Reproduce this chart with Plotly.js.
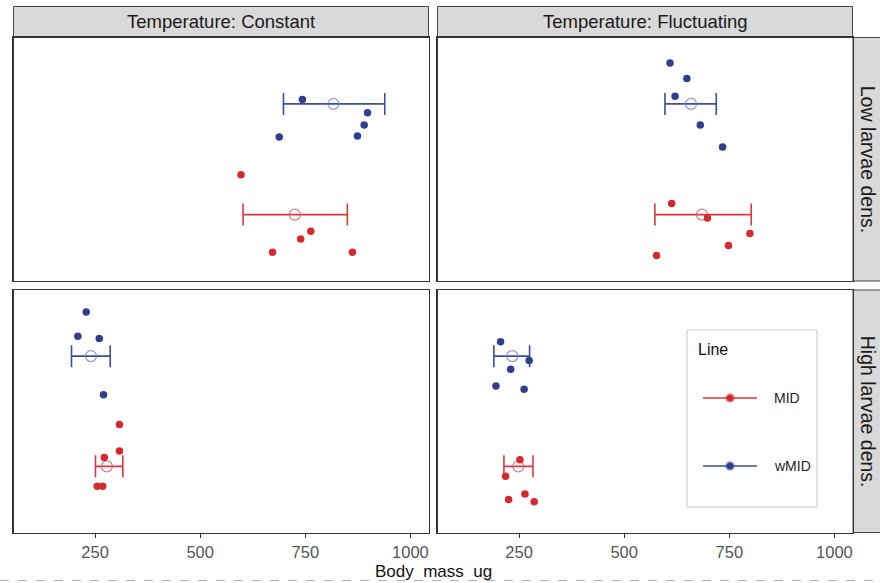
<!DOCTYPE html>
<html>
<head>
<meta charset="utf-8">
<script src="https://cdn.plot.ly/plotly-3.0.1.min.js"></script>
<style>html,body{margin:0;padding:0;background:#fff;}#chart{width:880px;height:583px;}</style>
</head>
<body>
<div id="chart"></div>
<script>
// ---- data ----
const xTickVals = [250, 500, 750, 1000];
const xTickText = ["250", "500", "750", "1000"];
const colLabels = ["Temperature: Constant", "Temperature: Fluctuating"];
const rowLabels = ["Low larvae dens.", "High larvae dens."];
const lineNames = ["MID", "wMID"];
const xTitle = "Body  mass  ug";

// Constant / Low density
const cl_MID_x  = [597, 763, 739, 672, 862];
const cl_MID_y  = [1.36, 0.85, 0.78, 0.66, 0.66];
const cl_wMID_x = [743, 898, 890, 874, 688];
const cl_wMID_y = [2.04, 1.92, 1.81, 1.71, 1.70];
// Fluctuating / Low density
const fl_MID_x  = [613, 698, 799, 748, 577];
const fl_MID_y  = [1.10, 0.97, 0.83, 0.72, 0.63];
const fl_wMID_x = [609, 649, 621, 681, 734];
const fl_wMID_y = [2.37, 2.23, 2.07, 1.81, 1.61];
// Constant / High density
const ch_MID_x  = [308, 308, 272, 255, 268];
const ch_MID_y  = [1.38, 1.14, 1.08, 0.82, 0.82];
const ch_wMID_x = [229, 209, 260, 270];
const ch_wMID_y = [2.40, 2.18, 2.16, 1.65];
// Fluctuating / High density
const fh_MID_x  = [252, 218, 264, 225, 286];
const fh_MID_y  = [1.06, 0.91, 0.75, 0.70, 0.68];
const fh_wMID_x = [206, 274, 230, 195, 262];
const fh_wMID_y = [2.13, 1.96, 1.88, 1.73, 1.70];

// means with 95% CI (lower, upper) per panel: [CL, FL, CH, FH]
const MID_mean  = [725, 685, 278, 248];
const MID_lo    = [602, 573, 251, 214];
const MID_hi    = [850, 802, 316, 283];
const wMID_mean = [817, 659, 240, 234];
const wMID_lo   = [698, 597, 194, 190];
const wMID_hi   = [939, 719, 286, 275];
const lineLevel = [1, 2]; // MID, wMID position on the discrete y scale

// ---- styling ----
const RED = '#d42a2f', BLUE = '#2e3f8f';
const RED_BAR = '#e0353c', BLUE_BAR = '#3c4d9e';
const RED_MEAN = 'rgba(200,90,95,0.75)', BLUE_MEAN = 'rgba(110,120,185,0.75)';
const FAM = 'Liberation Sans, Arial, sans-serif';
const W = 880, H = 583;
const px = v => v / W, py = v => 1 - v / H;

const panels = [
  {xa: 'x',  ya: 'y',  mx: cl_MID_x, my: cl_MID_y, wx: cl_wMID_x, wy: cl_wMID_y},
  {xa: 'x2', ya: 'y2', mx: fl_MID_x, my: fl_MID_y, wx: fl_wMID_x, wy: fl_wMID_y},
  {xa: 'x3', ya: 'y3', mx: ch_MID_x, my: ch_MID_y, wx: ch_wMID_x, wy: ch_wMID_y},
  {xa: 'x4', ya: 'y4', mx: fh_MID_x, my: fh_MID_y, wx: fh_wMID_x, wy: fh_wMID_y}
];

const traces = [];
panels.forEach((p, i) => {
  const meanTrace = (m, lo, hi, lvl, mc, bc, name) => ({
    type: 'scatter', mode: 'markers', xaxis: p.xa, yaxis: p.ya, name: name, showlegend: false,
    x: [m[i]], y: [lvl],
    marker: {symbol: 'circle-open', size: 11, color: mc, line: {width: 1.2, color: mc}},
    error_x: {type: 'data', symmetric: false, array: [hi[i] - m[i]], arrayminus: [m[i] - lo[i]],
              color: bc, thickness: 1.6, width: 11},
    hoverinfo: 'x'
  });
  traces.push(meanTrace(MID_mean, MID_lo, MID_hi, lineLevel[0], RED_MEAN, RED_BAR, 'MID mean'));
  traces.push(meanTrace(wMID_mean, wMID_lo, wMID_hi, lineLevel[1], BLUE_MEAN, BLUE_BAR, 'wMID mean'));
  traces.push({type: 'scatter', mode: 'markers', xaxis: p.xa, yaxis: p.ya, name: 'MID', showlegend: false,
    x: p.mx, y: p.my, marker: {size: 7.5, color: RED}});
  traces.push({type: 'scatter', mode: 'markers', xaxis: p.xa, yaxis: p.ya, name: 'wMID', showlegend: false,
    x: p.wx, y: p.wy, marker: {size: 7.5, color: BLUE}});
});

// domains (pixel-derived)
const colDom = [[px(13.5), px(428.5)], [px(437.5), px(852.5)]];
const rowDom = [[py(281), py(37.5)], [py(532.5), py(290)]];
const xRange = [56, 1043];
const yRange = [0.4, 2.6];

const axBase = {
  range: xRange, showgrid: false, zeroline: false, showline: true, mirror: true,
  linecolor: '#333333', linewidth: 1.4
};
function xAx(dom, anchor, bottom) {
  return Object.assign({}, axBase, {
    domain: dom, anchor: anchor,
    tickvals: xTickVals, ticktext: xTickText,
    ticks: bottom ? 'outside' : '', ticklen: 4, tickcolor: '#333333', tickwidth: 1,
    showticklabels: bottom,
    tickfont: {family: FAM, size: 16.5, color: '#555555'}
  });
}
function yAx(dom, anchor) {
  return Object.assign({}, axBase, {range: yRange, domain: dom, anchor: anchor,
    ticks: '', showticklabels: false});
}

const shapes = [];
const annotations = [];
const stripFont = {family: FAM, size: 18.5, color: '#1a1a1a'};

// top strips
colLabels.forEach((lab, c) => {
  shapes.push({type: 'rect', xref: 'paper', yref: 'paper', layer: 'below',
    x0: colDom[c][0], x1: colDom[c][1], y0: py(37.5), y1: py(6.5),
    fillcolor: '#d9d9d9', line: {color: '#444444', width: 1}});
  annotations.push({xref: 'paper', yref: 'paper', x: (colDom[c][0] + colDom[c][1]) / 2, y: py(22),
    text: lab, showarrow: false, font: stripFont, xanchor: 'center', yanchor: 'middle'});
});
// right strips
rowLabels.forEach((lab, r) => {
  shapes.push({type: 'rect', xref: 'paper', yref: 'paper', layer: 'below',
    x0: px(853), x1: px(884), y0: rowDom[r][0], y1: rowDom[r][1],
    fillcolor: '#d9d9d9', line: {color: '#444444', width: 1}});
  annotations.push({xref: 'paper', yref: 'paper', x: px(867.5), y: (rowDom[r][0] + rowDom[r][1]) / 2,
    text: lab, showarrow: false, font: Object.assign({}, stripFont, {size: 19.5}), textangle: 90,
    xanchor: 'center', yanchor: 'middle'});
});

// x axis title
annotations.push({xref: 'paper', yref: 'paper', x: px(433), y: py(571.5), text: xTitle, showarrow: false,
  font: {family: FAM, size: 17, color: '#111111'}, xanchor: 'center', yanchor: 'middle'});

// dashed border line at the bottom of the image
shapes.push({type: 'line', xref: 'paper', yref: 'paper', x0: 0, x1: 1, y0: py(580.5), y1: py(580.5),
  line: {color: '#b0b0b0', width: 1, dash: 'dash'}});

// legend (drawn in the lower-right panel)
shapes.push({type: 'rect', xref: 'paper', yref: 'paper', x0: px(687), x1: px(817), y0: py(507), y1: py(330),
  fillcolor: '#ffffff', line: {color: '#cccccc', width: 1}});
annotations.push({xref: 'paper', yref: 'paper', x: px(696), y: py(349), text: 'Line', showarrow: false,
  font: {family: FAM, size: 16, color: '#111111'}, xanchor: 'left', yanchor: 'middle'});
const legItems = [{name: lineNames[0], y: 398, c: RED, bc: RED_BAR}, {name: lineNames[1], y: 466, c: BLUE, bc: BLUE_BAR}];
legItems.forEach(it => {
  shapes.push({type: 'line', xref: 'paper', yref: 'paper', x0: px(703), x1: px(757), y0: py(it.y), y1: py(it.y),
    line: {color: it.bc, width: 1.5}});
  shapes.push({type: 'circle', xref: 'paper', yref: 'paper', x0: px(725), x1: px(735), y0: py(it.y + 5), y1: py(it.y - 5),
    fillcolor: it.c, opacity: 0.35, line: {width: 0}});
  shapes.push({type: 'circle', xref: 'paper', yref: 'paper', x0: px(726.5), x1: px(733.5), y0: py(it.y + 3.5), y1: py(it.y - 3.5),
    fillcolor: it.c, line: {width: 0}});
  annotations.push({xref: 'paper', yref: 'paper', x: px(772), y: py(it.y), text: it.name, showarrow: false,
    font: {family: FAM, size: 14, color: '#222222'}, xanchor: 'left', yanchor: 'middle'});
});

const layout = {
  width: W, height: H,
  margin: {l: 0, r: 0, t: 0, b: 0, pad: 0},
  paper_bgcolor: '#ffffff', plot_bgcolor: '#ffffff',
  showlegend: false,
  font: {family: FAM},
  xaxis:  xAx(colDom[0], 'y', false),
  yaxis:  yAx(rowDom[0], 'x'),
  xaxis2: xAx(colDom[1], 'y2', false),
  yaxis2: yAx(rowDom[0], 'x2'),
  xaxis3: xAx(colDom[0], 'y3', true),
  yaxis3: yAx(rowDom[1], 'x3'),
  xaxis4: xAx(colDom[1], 'y4', true),
  yaxis4: yAx(rowDom[1], 'x4'),
  shapes: shapes,
  annotations: annotations
};

Plotly.newPlot('chart', traces, layout, {displayModeBar: false, staticPlot: true});
</script>
</body>
</html>
